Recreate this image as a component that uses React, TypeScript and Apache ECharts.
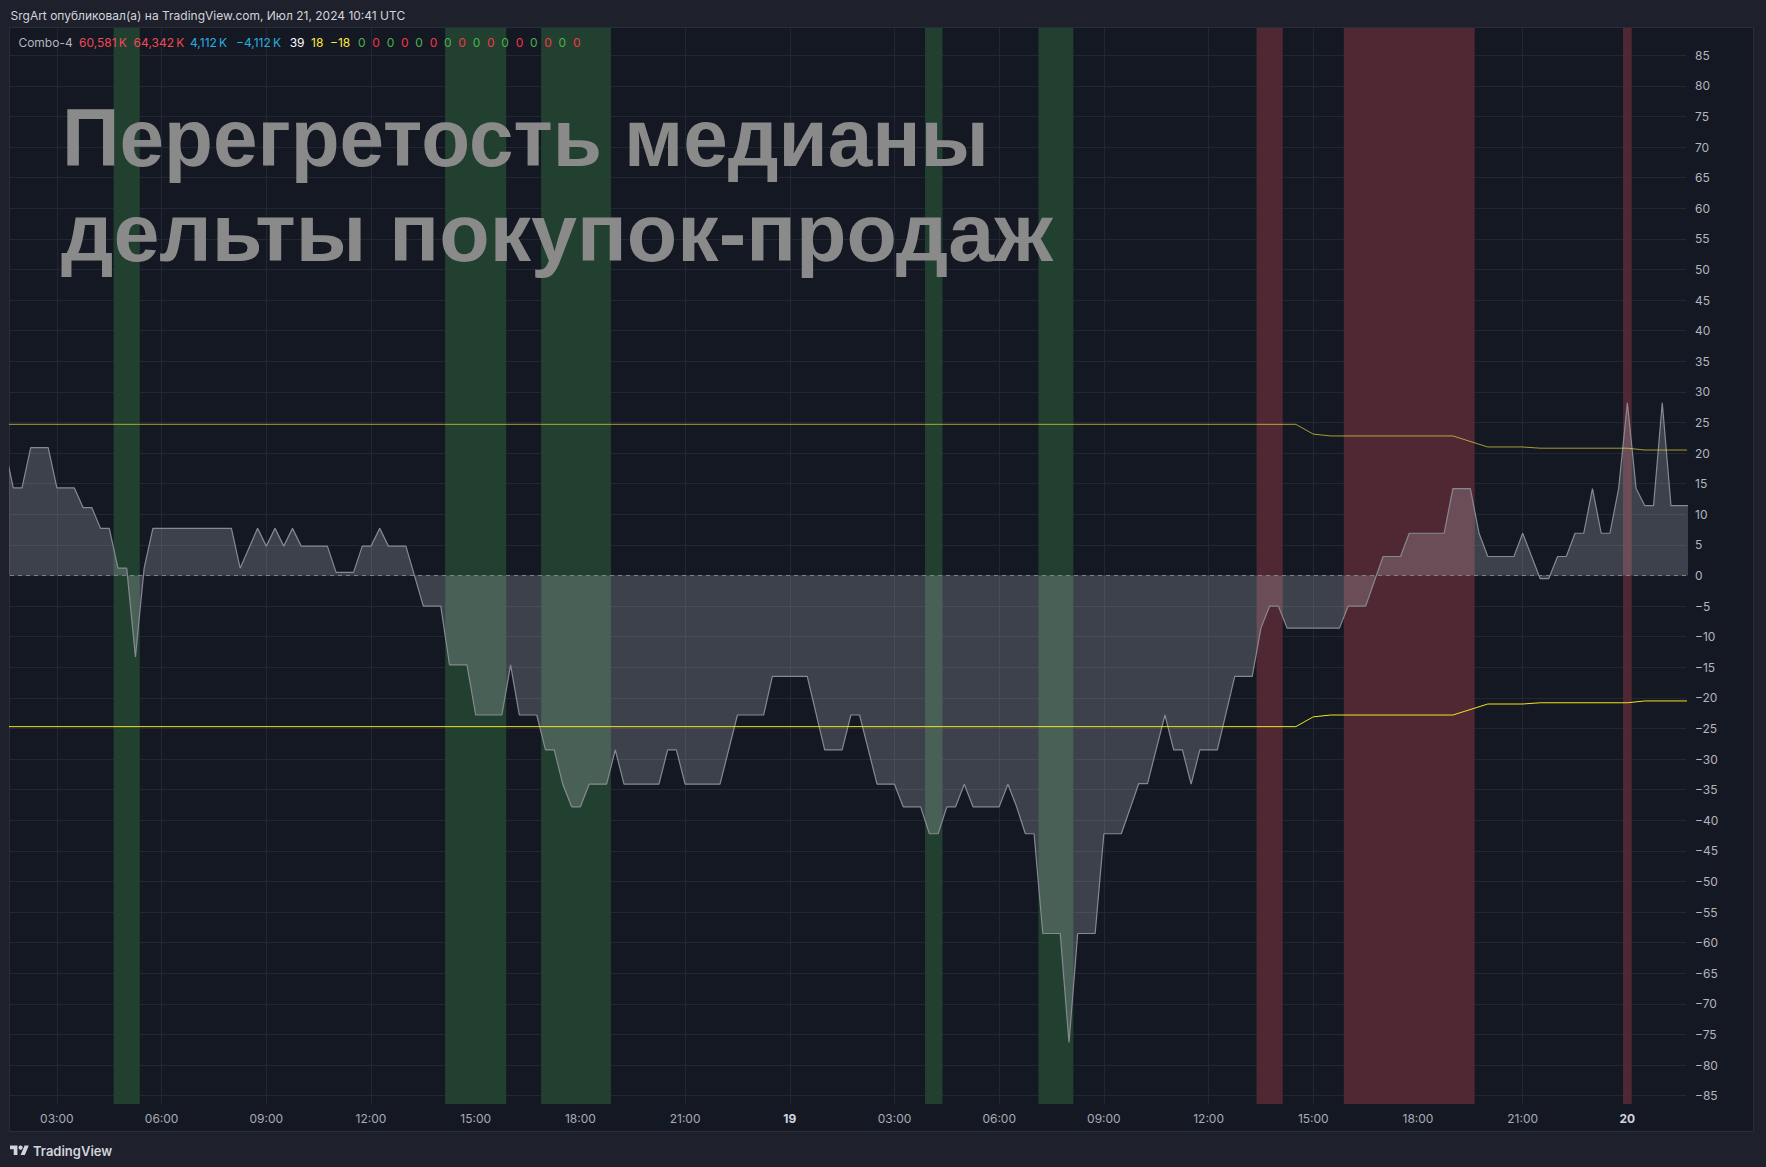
import React, { useEffect, useRef } from 'react';
import * as echarts from 'echarts';

// hours since 18 Jul 00:00 (UTC) -> value
const areaTimes = [
  1.5, 1.75, 2.0, 2.25, 2.75, 3.0, 3.5, 3.75, 4.0, 4.25, 4.5, 4.75, 5.0, 5.25, 5.5, 5.75,
  8.0, 8.25, 8.75, 9.0, 9.25, 9.5, 9.75, 10.0, 10.75, 11.0, 11.5, 11.75, 12.0, 12.25, 12.5,
  13.0, 13.5, 14.0, 14.25, 14.75, 15.0, 15.75, 16.0, 16.25, 16.75, 17.0, 17.25, 17.5, 17.75,
  18.0, 18.25, 18.75, 19.0, 19.25, 20.25, 20.5, 20.75, 21.0, 22.0, 22.5, 23.25, 23.5, 24.5,
  25.0, 25.5, 25.75, 26.0, 26.5, 27.0, 27.25, 27.75, 28.0, 28.25, 28.5, 28.75, 29.0, 29.25,
  30.0, 30.25, 30.5, 30.75, 31.0, 31.25, 31.75, 32.0, 32.25, 32.75, 33.0, 33.5, 34.0, 34.25,
  34.75, 35.0, 35.25, 35.5, 35.75, 36.25, 36.75, 37.25, 37.5, 37.75, 38.0, 38.25, 39.75,
  40.0, 40.5, 41.0, 41.5, 41.75, 42.75, 43.0, 43.5, 43.75, 44.0, 44.75, 45.0, 45.5, 45.75,
  46.0, 46.25, 46.5, 46.75, 47.0, 47.25, 47.5, 47.75, 48.0, 48.25, 48.5, 48.75, 49.0, 49.25, 49.75,
];
const areaValues = [
  21.0, 14.3, 14.3, 20.9, 20.9, 14.3, 14.3, 11.1, 11.1, 7.7, 7.7, 1.2, 1.2, -13.3, 1.2, 7.7,
  7.7, 1.2, 7.7, 4.8, 7.7, 4.8, 7.7, 4.8, 4.8, 0.5, 0.5, 4.8, 4.8, 7.7, 4.8,
  4.8, -5.0, -5.0, -14.6, -14.6, -22.8, -22.8, -14.6, -22.8, -22.8, -28.5, -28.5, -34.2, -37.8,
  -37.8, -34.1, -34.1, -28.5, -34.1, -34.1, -28.5, -28.5, -34.1, -34.1, -22.8, -22.8, -16.5, -16.5,
  -28.5, -28.5, -22.8, -22.8, -34.1, -34.1, -37.8, -37.8, -42.2, -42.2, -37.8, -37.8, -34.1, -37.8,
  -37.8, -34.1, -37.8, -42.2, -42.2, -58.5, -58.5, -76.3, -58.5, -58.5, -42.2, -42.2, -34.0, -34.0,
  -22.8, -28.5, -28.5, -34.1, -28.5, -28.5, -16.5, -16.5, -8.6, -5.0, -5.0, -8.6, -8.6,
  -5.0, -5.0, 3.1, 3.1, 6.9, 6.9, 14.2, 14.2, 6.9, 3.1, 3.1, 6.9, -0.5, -0.5,
  3.1, 3.1, 6.9, 6.9, 14.2, 6.9, 6.9, 14.2, 28.2, 14.2, 11.4, 11.4, 28.2, 11.4, 11.4,
];
const bandTimes = [1.5, 38.5, 39.0, 39.5, 43.0, 44.0, 45.0, 45.5, 48.0, 48.5, 49.75];
const upperValues = [24.7, 24.7, 23.1, 22.8, 22.8, 21.0, 21.0, 20.8, 20.8, 20.5, 20.5];
const lowerValues = [-24.7, -24.7, -23.1, -22.8, -22.8, -21.0, -21.0, -20.8, -20.8, -20.5, -20.5];

const greenBands = [[4.625, 5.375], [14.125, 15.875], [16.875, 18.875], [27.875, 28.375], [31.125, 32.125]];
const redBands = [[37.375, 38.125], [39.875, 43.625], [47.875, 48.125]];

const firstDay = 18;
const xTickStep = 3;
const yTickStep = 5;

const headerText = 'SrgArt опубликовал(а) на TradingView.com, Июл 21, 2024 10:41 UTC';
const titleLines = ['Перегретость медианы', 'дельты покупок-продаж'];
const legendTexts = [
  'Combo-4', '60,581\u2009K', '64,342\u2009K', '4,112\u2009K', '\u22124,112\u2009K', '39', '18', '\u221218',
  '0', '0', '0', '0', '0', '0', '0', '0', '0', '0', '0', '0', '0', '0', '0', '0',
];
const legendColors = [
  '#b2b5be', '#f04a55', '#f04a55', '#2aaee0', '#2aaee0', '#ffffff', '#ffeb3b', '#ffeb3b',
  '#4caf50', '#f23645', '#4caf50', '#f23645', '#4caf50', '#f23645', '#4caf50', '#f23645',
  '#4caf50', '#f23645', '#4caf50', '#f23645', '#4caf50', '#f23645', '#4caf50', '#f23645',
];

// layout
const legendX = [18.4, 79, 133.6, 190, 236, 289.7, 311, 330];
const zeroStartX = 358;
const zeroStep = 14.33;

echarts.graphic.registerShape(
  'tvlogo',
  echarts.graphic.extendPath('M14 22H7V11H0V4h14v18zM28 22h-8l7.5-18h8L28 22z', {})
);

const FONT = 'Inter, "Noto Sans", sans-serif';
const TITLE_FONT = '"Liberation Sans", Arial, sans-serif';

export default function App() {
  const ref = useRef<HTMLDivElement>(null);

  useEffect(() => {
    if (!ref.current) return;
    const chart = echarts.init(ref.current, null, { renderer: 'svg' });

    const areaData = areaTimes.map((t, i) => [t, areaValues[i]]);
    const upperData = bandTimes.map((t, i) => [t, upperValues[i]]);
    const lowerData = bandTimes.map((t, i) => [t, lowerValues[i]]);

    const markAreaData: any[] = [];
    greenBands.forEach(([a, b]) =>
      markAreaData.push([{ xAxis: a, itemStyle: { color: '#22402f' } }, { xAxis: b }])
    );
    redBands.forEach(([a, b]) =>
      markAreaData.push([{ xAxis: a, itemStyle: { color: '#502833' } }, { xAxis: b }])
    );

    const legendEls: any[] = legendTexts.map((txt, i) => ({
      type: 'text',
      z: 20,
      x: i < legendX.length ? legendX[i] : zeroStartX + (i - legendX.length) * zeroStep,
      y: 42,
      silent: true,
      style: {
        text: txt,
        fill: legendColors[i],
        fontSize: 12,
        fontFamily: FONT,
        verticalAlign: 'middle',
        align: 'left',
      },
    }));

    const option: any = {
      animation: false,
      backgroundColor: '#1e212b',
      grid: { left: 10, right: 80, top: 28, bottom: 63 },
      xAxis: {
        type: 'value',
        min: 1.656,
        max: 49.68,
        splitNumber: 16,
        axisLine: { show: false },
        axisTick: { show: false },
        splitLine: {
          show: true,
          showMinLine: false,
          showMaxLine: false,
          lineStyle: { color: '#232733', width: 1 },
        },
        axisLabel: {
          margin: 8,
          color: '#a9acb5',
          fontSize: 12,
          fontFamily: FONT,
          showMinLabel: false,
          showMaxLabel: false,
          formatter: (v: number) => {
            const r = Math.round(v);
            if (Math.abs(v - r) > 1e-6 || r % xTickStep !== 0) return '';
            const h = r % 24;
            if (h === 0) return '{b|' + (firstDay + r / 24) + '}';
            return (h < 10 ? '0' : '') + h + ':00';
          },
          rich: {
            b: { fontWeight: 'bold', color: '#d1d4dc', fontSize: 12, fontFamily: FONT },
          },
        },
      },
      yAxis: {
        type: 'value',
        position: 'right',
        min: -86.36,
        max: 89.46,
        splitNumber: 35,
        axisLine: { show: false },
        axisTick: { show: false },
        splitLine: {
          show: true,
          showMinLine: false,
          showMaxLine: false,
          lineStyle: { color: '#232733', width: 1 },
        },
        axisLabel: {
          margin: 9,
          color: '#b2b5be',
          fontSize: 12,
          fontFamily: FONT,
          showMinLabel: false,
          showMaxLabel: false,
          formatter: (v: number) => {
            const r = Math.round(v);
            if (Math.abs(v - r) > 1e-6 || r % yTickStep !== 0) return '';
            return r < 0 ? '\u2212' + -r : String(r);
          },
        },
      },
      series: [
        {
          type: 'line',
          name: 'delta',
          data: areaData,
          z: 2,
          showSymbol: false,
          symbol: 'none',
          silent: true,
          lineStyle: { color: '#868992', width: 1.2 },
          areaStyle: { color: 'rgba(200,203,213,0.33)', origin: 0 },
          markArea: {
            silent: true,
            label: { show: false },
            data: markAreaData,
          },
          markLine: {
            silent: true,
            symbol: 'none',
            label: { show: false },
            lineStyle: { color: '#7d808a', type: [4, 4], width: 1 },
            data: [{ yAxis: 0 }],
          },
        },
        {
          type: 'line',
          name: 'upper',
          data: upperData,
          z: 3,
          showSymbol: false,
          symbol: 'none',
          silent: true,
          lineStyle: { color: 'rgba(255,235,59,0.62)', width: 1 },
        },
        {
          type: 'line',
          name: 'lower',
          data: lowerData,
          z: 3,
          showSymbol: false,
          symbol: 'none',
          silent: true,
          lineStyle: { color: '#f5e21b', width: 1 },
        },
      ],
      graphic: [
        {
          type: 'rect',
          z: -10,
          silent: true,
          shape: { x: 9.5, y: 27.5, width: 1744, height: 1104 },
          style: { fill: '#141823', stroke: '#2a2e39', lineWidth: 1 },
        },
        {
          type: 'text',
          z: 20,
          x: 10.5,
          y: 15,
          silent: true,
          style: {
            text: headerText,
            fill: '#d1d4dc',
            fontSize: 12,
            fontFamily: FONT,
            verticalAlign: 'middle',
          },
        },
        ...legendEls,
        {
          type: 'text',
          z: 20,
          x: 62,
          y: 137.5,
          scaleX: 0.988,
          silent: true,
          style: {
            text: titleLines[0],
            fill: '#8a8a8a',
            fontSize: 81,
            fontWeight: 'bold',
            fontFamily: TITLE_FONT,
            verticalAlign: 'middle',
          },
        },
        {
          type: 'text',
          z: 20,
          x: 61,
          y: 233,
          scaleX: 1.02,
          silent: true,
          style: {
            text: titleLines[1],
            fill: '#8a8a8a',
            fontSize: 81,
            fontWeight: 'bold',
            fontFamily: TITLE_FONT,
            verticalAlign: 'middle',
          },
        },
        {
          type: 'tvlogo',
          z: 20,
          x: 10,
          y: 1143.4,
          scaleX: 0.53,
          scaleY: 0.53,
          silent: true,
          style: { fill: '#d1d4dc' },
        },
        {
          type: 'circle',
          z: 20,
          silent: true,
          shape: { cx: 20.6, cy: 1147.6, r: 2.1 },
          style: { fill: '#d1d4dc' },
        },
        {
          type: 'text',
          z: 20,
          x: 33,
          y: 1150.5,
          silent: true,
          style: {
            text: 'TradingView',
            fill: '#d1d4dc',
            fontSize: 13,
            fontWeight: 600,
            fontFamily: FONT,
            verticalAlign: 'middle',
          },
        },
      ],
    };

    chart.setOption(option);
    return () => {
      chart.dispose();
    };
  }, []);

  return (
    <div
      ref={ref}
      style={{ position: 'fixed', left: 0, top: 0, width: 1766, height: 1167 }}
    />
  );
}
